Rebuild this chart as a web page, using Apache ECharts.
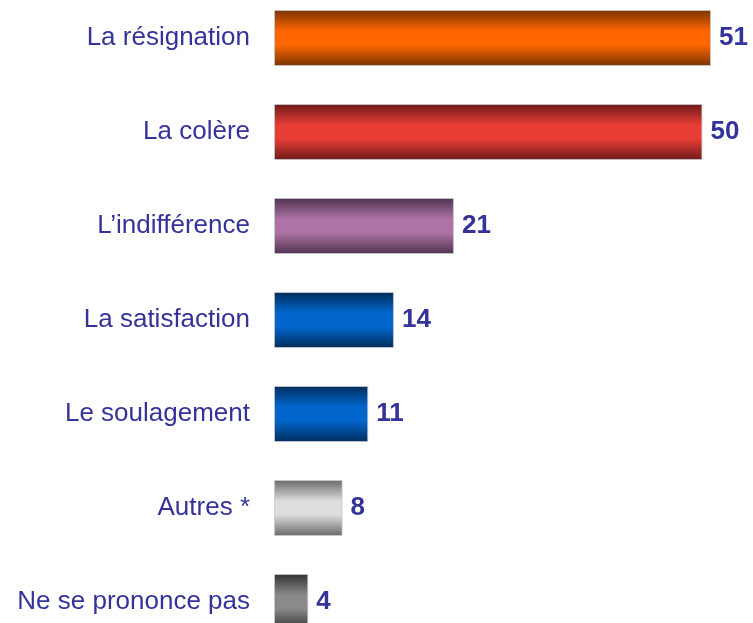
<!DOCTYPE html>
<html>
<head>
<meta charset="utf-8">
<script src="https://cdn.jsdelivr.net/npm/echarts@6/dist/echarts.min.js"></script>
<style>
  html, body { margin: 0; padding: 0; background: #fff; overflow: hidden; }
  #chart { position: absolute; left: 0; top: -9px; width: 753px; height: 658px; }
</style>
</head>
<body>
<div id="chart"></div>
<script>
const categories = ["La résignation", "La colère", "L’indifférence", "La satisfaction", "Le soulagement", "Autres *", "Ne se prononce pas"];
const values = [51, 50, 21, 14, 11, 8, 4];
// couleur du bord (haut/bas) et du centre de chaque barre
const edgeColors = ["#7a3300", "#6e1a1a", "#4f3350", "#002d5c", "#002d5c", "#6a6a6a", "#333333"];
const midColors = ["#ff6600", "#e83e35", "#ad73a5", "#0066cc", "#0066cc", "#dddddd", "#8a8a8a"];

let chart = echarts.init(document.getElementById("chart"));

const barData = values.map((v, i) => ({
  value: v,
  itemStyle: {
    color: new echarts.graphic.LinearGradient(0, 0, 0, 1, [
      { offset: 0, color: edgeColors[i] },
      { offset: 0.38, color: midColors[i] },
      { offset: 0.62, color: midColors[i] },
      { offset: 1, color: edgeColors[i] }
    ]),
    borderColor: "rgba(200,200,210,0.8)",
    borderWidth: 1
  }
}));

chart.setOption({
  animation: false,
  grid: {
    left: 274,
    right: 42,
    top: 0,
    bottom: 0
  },
  xAxis: {
    type: "value",
    min: 0,
    max: 51,
    show: false
  },
  yAxis: {
    type: "category",
    data: categories,
    inverse: true,
    axisLine: { show: false },
    axisTick: { show: false },
    splitLine: { show: false },
    axisLabel: {
      margin: 24,
      color: "#333399",
      fontSize: 26,
      fontFamily: "Liberation Sans, Arial, sans-serif"
    }
  },
  series: [
    {
      type: "bar",
      barWidth: 56,
      data: barData,
      label: {
        show: true,
        position: "right",
        distance: 8,
        color: "#333399",
        fontSize: 26,
        fontWeight: "bold",
        fontFamily: "Liberation Sans, Arial, sans-serif"
      }
    }
  ]
});
</script>
</body>
</html>
